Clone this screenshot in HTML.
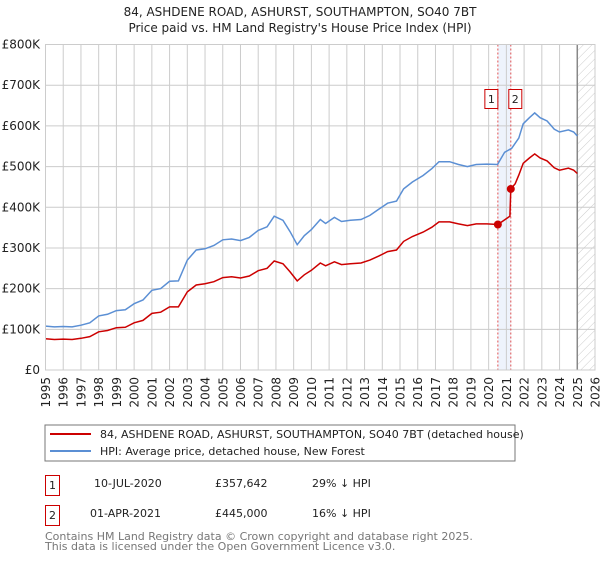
<!DOCTYPE html>
<html><head><meta charset="utf-8"><style>
body{margin:0;background:#fff;font-family:"DejaVu Sans","Liberation Sans",sans-serif;}
svg text{font-family:"DejaVu Sans","Liberation Sans",sans-serif;}
</style></head><body>
<svg id="chart" width="600" height="560" xmlns="http://www.w3.org/2000/svg">
<defs><pattern id="hatch" width="6" height="6" patternUnits="userSpaceOnUse" patternTransform="rotate(45)"><line x1="0" y1="0" x2="0" y2="6" stroke="#ccc" stroke-width="1"/></pattern></defs>
<text x="300" y="16" text-anchor="middle" font-size="12" fill="#222">84, ASHDENE ROAD, ASHURST, SOUTHAMPTON, SO40 7BT</text>
<text x="300" y="32" text-anchor="middle" font-size="12" fill="#222">Price paid vs. HM Land Registry's House Price Index (HPI)</text>
<g id="grid"></g><g id="marks"></g><g id="axes"></g>
<rect x="45" y="425" width="470" height="36" fill="#fff" stroke="#777"/>
<line x1="50" y1="434" x2="91" y2="434" stroke="#cc0000" stroke-width="2"/>
<text x="100" y="438" font-size="11" fill="#222">84, ASHDENE ROAD, ASHURST, SOUTHAMPTON, SO40 7BT (detached house)</text>
<line x1="50" y1="451" x2="91" y2="451" stroke="#5b8fd4" stroke-width="2"/>
<text x="100" y="455" font-size="11" fill="#222">HPI: Average price, detached house, New Forest</text>
<rect x="45.5" y="475.5" width="14" height="20" fill="none" stroke="#cc0000"/>
<text x="52.5" y="489" text-anchor="middle" font-size="11" fill="#222">1</text>
<text x="94" y="487" font-size="11" fill="#222">10-JUL-2020</text>
<text x="215" y="487" font-size="11" fill="#222">£357,642</text>
<text x="312" y="487" font-size="11" fill="#222">29% ↓ HPI</text>
<rect x="45.5" y="505.5" width="14" height="20" fill="none" stroke="#cc0000"/>
<text x="52.5" y="519" text-anchor="middle" font-size="11" fill="#222">2</text>
<text x="90" y="517" font-size="11" fill="#222">01-APR-2021</text>
<text x="215" y="517" font-size="11" fill="#222">£445,000</text>
<text x="312" y="517" font-size="11" fill="#222">16% ↓ HPI</text>
<text x="45" y="540" font-size="11" fill="#777">Contains HM Land Registry data © Crown copyright and database right 2025.</text>
<text x="45" y="550" font-size="11" fill="#777">This data is licensed under the Open Government Licence v3.0.</text>
</svg>
<script>
const hpiYears=[1995.0,1995.5,1996.0,1996.5,1997.0,1997.5,1998.0,1998.5,1999.0,1999.5,2000.0,2000.5,2001.0,2001.5,2002.0,2002.5,2003.0,2003.5,2004.0,2004.5,2005.0,2005.5,2006.0,2006.5,2007.0,2007.5,2007.9,2008.4,2008.8,2009.2,2009.6,2010.0,2010.5,2010.8,2011.3,2011.7,2012.2,2012.8,2013.3,2013.8,2014.3,2014.8,2015.2,2015.7,2016.3,2016.8,2017.2,2017.8,2018.3,2018.8,2019.3,2019.9,2020.5,2020.9,2021.3,2021.7,2021.95,2022.3,2022.6,2022.9,2023.3,2023.7,2024.0,2024.5,2024.8,2025.0];
const hpiValues=[108,106,107,106,110,116,133,137,146,148,163,172,196,200,218,219,270,295,298,306,320,322,318,326,343,352,378,368,340,308,330,345,370,360,375,365,368,370,380,395,410,415,445,462,478,495,512,512,505,500,505,506,505,535,545,570,605,620,632,620,612,592,585,590,585,575];
const ppYears=[1995.0,1995.5,1996.0,1996.5,1997.0,1997.5,1998.0,1998.5,1999.0,1999.5,2000.0,2000.5,2001.0,2001.5,2002.0,2002.5,2003.0,2003.5,2004.0,2004.5,2005.0,2005.5,2006.0,2006.5,2007.0,2007.5,2007.9,2008.4,2008.8,2009.2,2009.6,2010.0,2010.5,2010.8,2011.3,2011.7,2012.2,2012.8,2013.3,2013.8,2014.3,2014.8,2015.2,2015.7,2016.3,2016.8,2017.2,2017.8,2018.3,2018.8,2019.3,2019.9,2020.52,2021.0,2021.2,2021.25,2021.5,2021.7,2021.95,2022.3,2022.6,2022.9,2023.3,2023.7,2024.0,2024.5,2024.8,2025.0];
const ppValues=[77,75,76,75,78,82,94,97,104,105,116,122,139,142,155,155,192,209,212,217,227,229,226,231,244,250,268,261,241,219,234,245,263,256,266,259,261,263,270,280,291,295,316,328,339,351,364,364,359,355,359,359,357.6,372,378,445,458,479,508,521,531,521,514,497,491,496,491,483];
const saleYears=[2020.52,2021.25];
const saleValues=[357.642,445];
const saleLabels=["1","2"];
const yTicks=[0,100,200,300,400,500,600,700,800];
const yTickLabels=["£0","£100K","£200K","£300K","£400K","£500K","£600K","£700K","£800K"];
const xTicks=[1995,1996,1997,1998,1999,2000,2001,2002,2003,2004,2005,2006,2007,2008,2009,2010,2011,2012,2013,2014,2015,2016,2017,2018,2019,2020,2021,2022,2023,2024,2025,2026];

const X0=45.5,X1=595,Y0=370,Y1=44.5;
const xs=y=>X0+(y-1995)/(2026-1995)*(X1-X0);
const ys=v=>Y0-v/800*(Y0-Y1);
const NS="http://www.w3.org/2000/svg";
function mk(tag,parent,attrs){const e=document.createElementNS(NS,tag);for(const k in attrs)e.setAttribute(k,attrs[k]);parent.appendChild(e);return e;}
const grid=document.getElementById('grid'),marks=document.getElementById('marks'),axes=document.getElementById('axes');
let band=mk('rect',grid,{x:xs(saleYears[0]),y:Y1,width:xs(saleYears[1])-xs(saleYears[0]),height:Y0-Y1,fill:'#eef3fc'});


let hat=mk('rect',grid,{x:xs(2025.0),y:Y1,width:X1-xs(2025.0),height:Y0-Y1,fill:'url(#hatch)'});


yTicks.forEach((t,i)=>{
  let l=mk('line',grid,{x1:X0,x2:X1,y1:ys(t),y2:ys(t),stroke:'#ccc','stroke-width':1});
  
  
  let tx=mk('text',axes,{x:40,y:ys(t)+4,'text-anchor':'end','font-size':12,fill:'#222'});
  tx.textContent=yTickLabels[i];
  
  
});
xTicks.forEach(t=>{
  let l=mk('line',grid,{x1:xs(t),x2:xs(t),y1:Y1,y2:Y0,stroke:'#ccc','stroke-width':1});
  
  
  const px=xs(t)+4.5;
  let tx=mk('text',axes,{x:px,y:377,'text-anchor':'end','font-size':12,fill:'#222',transform:'rotate(-90 '+px+' 377)'});
  tx.textContent=t;
  
  
});
let nowl=mk('line',grid,{x1:xs(2025.0),x2:xs(2025.0),y1:Y1,y2:Y0,stroke:'#888','stroke-width':1.5});


saleYears.forEach((y,i)=>{
  let l=mk('line',grid,{x1:xs(y),x2:xs(y),y1:Y1,y2:Y0,stroke:'#e05050','stroke-width':1,'stroke-dasharray':'2,2'});
  
  
});
function path(xa,va){return xa.map((x,i)=>(i?'L':'M')+xs(x).toFixed(1)+','+ys(va[i]).toFixed(1)).join('');}
let hp=mk('path',marks,{d:path(hpiYears,hpiValues),fill:'none',stroke:'#5b8fd4','stroke-width':1.5});


let pp=mk('path',marks,{d:path(ppYears,ppValues),fill:'none',stroke:'#cc0000','stroke-width':1.5});


saleYears.forEach((y,i)=>{
  let c=mk('circle',marks,{cx:xs(y),cy:ys(saleValues[i]),r:4,fill:'#cc0000'});
  
  
  const bx=i===0?xs(y)-13:xs(y)-2;
  let r=mk('rect',marks,{x:bx,y:89.5,width:13,height:19,fill:'#fff',stroke:'#cc0000'});
  
  
  let t=mk('text',marks,{x:bx+6.5,y:103,'text-anchor':'middle','font-size':11,fill:'#222'});
  t.textContent=saleLabels[i];
  
  
});
let frame=mk('rect',axes,{x:X0,y:Y1,width:X1-X0,height:Y0-Y1,fill:'none',stroke:'#ccc'});


</script>
</body></html>
